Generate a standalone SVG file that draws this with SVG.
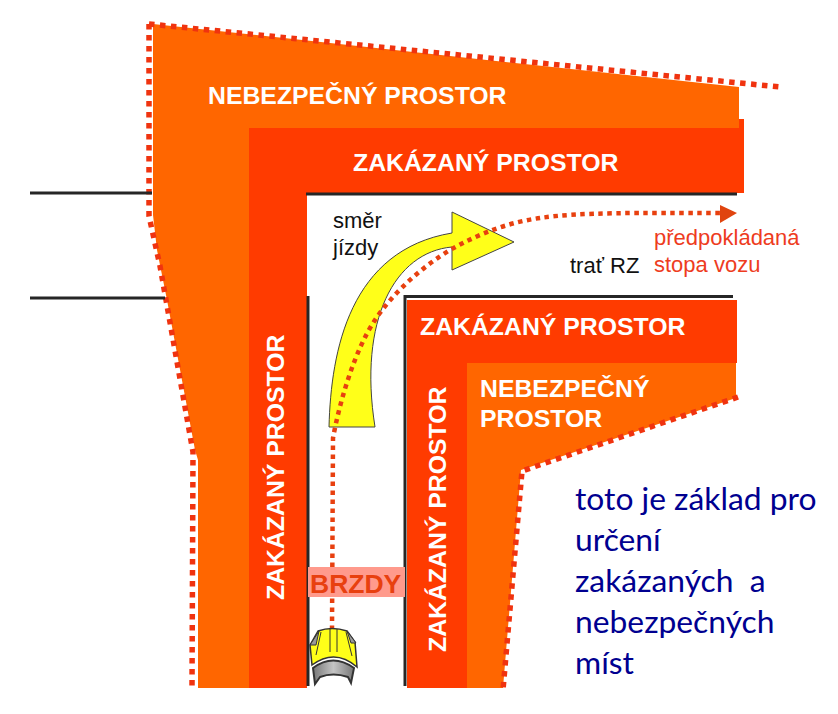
<svg xmlns="http://www.w3.org/2000/svg" width="838" height="714" viewBox="0 0 838 714">
<style>
.w{font-family:"Liberation Sans",Arial,sans-serif;font-weight:700;fill:#fff;font-size:24.800px}
.k{font-family:"Liberation Sans",Arial,sans-serif;fill:#111;font-size:22px}
.r{font-family:"Liberation Sans",Arial,sans-serif;fill:#ee3c1e;font-size:22px}
.b{font-family:Lato,"Noto Sans",sans-serif;fill:#000090;font-size:31.800px;white-space:pre}
.road{fill:none;stroke:#262626;stroke-width:3}
.dot{fill:none;stroke:#f0330f;stroke-width:5.500;stroke-dasharray:5.500 5.500}
</style>
<defs>
<linearGradient id="glass" x1="0" x2="1" y1="0" y2="0"><stop offset="0" stop-color="#777"/><stop offset=".5" stop-color="#c4c4c4"/><stop offset="1" stop-color="#777"/></linearGradient>
</defs>
<rect width="838" height="714" fill="#fff"/>
<g id="danger-outer">
<path d="M153 24L739 87V130H306V688H198V460L195 450L167 300L157 250L153 215Z" fill="#ff6600"/>
<path class="dot" d="M149 24V216L160 266L193 452L192 688"/>
<path class="dot" d="M149 24L780 87"/>
<text class="w" x="208" y="104">NEBEZPEČNÝ PROSTOR</text>
</g>
<g id="danger-inner">
<path d="M467 363H736V398L521 470L503 688H467Z" fill="#ff6600"/>
<path class="dot" d="M738 397L522 471L503 690"/>
<text class="w" x="480" y="397">NEBEZPEČNÝ</text>
<text class="w" x="480" y="427">PROSTOR</text>
</g>
<g id="forbidden-outer">
<path d="M249 128H739V119H744V193H307V688H249Z" fill="#ff3b00"/>
<text class="w" x="353" y="171">ZAKÁZANÝ PROSTOR</text>
<text class="w" transform="translate(284 600) rotate(-90)">ZAKÁZANÝ PROSTOR</text>
</g>
<g id="forbidden-inner">
<path d="M407 300H737V363H467V688H407Z" fill="#ff3b00"/>
<text class="w" x="420" y="335">ZAKÁZANÝ PROSTOR</text>
<text class="w" transform="translate(446 652) rotate(-90)">ZAKÁZANÝ PROSTOR</text>
</g>
<g id="connectors">
<path class="road" d="M30 193H152M306 194H737M30 298H165M308 296V686M733 296.500H405V686"/>
</g>
<g id="arrow-direction">
<path d="M329 427C331 350 350 250 452 233V212L514 242L452 270V247C395 252 358 320 375 427Z" fill="#ffff19" stroke="#444" stroke-width="1"/>
</g>
<g id="label-smer"><text class="k" x="333" y="228">směr</text><text class="k" x="333" y="255">jízdy</text></g>
<g id="label-trat"><text class="k" x="570" y="273">trať RZ</text></g>
<g id="label-stopa"><text class="r" x="654" y="245">předpokládaná</text><text class="r" x="654" y="272">stopa vozu</text></g>
<g id="trajectory">
<path d="M332 630L333 438C340 400 355 350 375 320C395 290 425 265 450 250C480 233 510 222 540 218C580 212 640 213 720 213" fill="none" stroke="#e8400f" stroke-width="4.500" stroke-dasharray="4.500 4.500"/>
<path d="M720 205L737 213L720 223Z" fill="#e0440f"/>
</g>
<g id="brzdy">
<rect x="308" y="567" width="97" height="30" fill="#ff9a8c"/>
<text x="310" y="593" font-family="Liberation Sans,Arial,sans-serif" font-weight="700" font-size="26.500" fill="#e8400f">BRZDY</text>
</g>
<g id="car">
<path d="M310 645L318 631Q332 626 347 631L355 642L357 667Q335 648 312 665Z" fill="#ffff19" stroke="#333" stroke-width="1.500"/>
<path d="M310 645L319 631L316 645ZM347 631L356 643L351 643Z" fill="#999" stroke="#333" stroke-width="1"/>
<path d="M330 629V652M337 629V652M321 632L316 655M346 632L352 656" fill="none" stroke="#333" stroke-width="1"/>
<path d="M313 668Q333 653 354 668L351 683L348 677Q333 672 320 677L315 684Z" fill="url(#glass)" stroke="#333" stroke-width="2"/>
</g>
<g id="note">
<text class="b" x="575" y="510">toto je základ pro</text>
<text class="b" x="575" y="551">určení</text>
<text class="b" x="575" y="592">zakázaných  a</text>
<text class="b" x="575" y="633">nebezpečných</text>
<text class="b" x="575" y="674">míst</text>
</g>
</svg>
